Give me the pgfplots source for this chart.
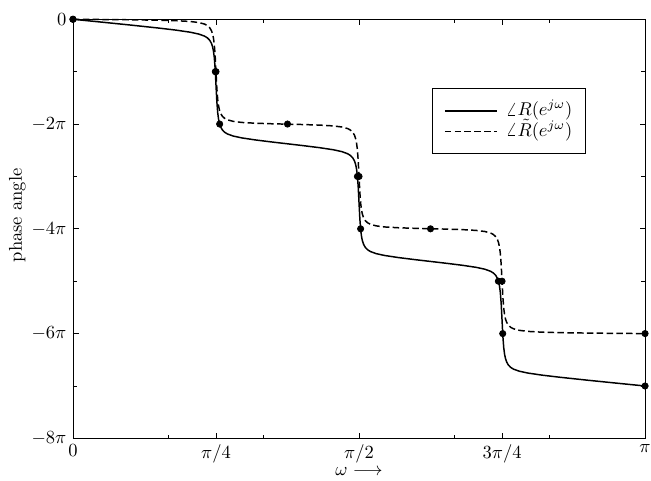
\documentclass[border=0pt]{standalone}
\usepackage{pgfplots}
\pgfplotsset{compat=1.18}
\begin{document}
\begin{tikzpicture}
\begin{axis}[
  scale only axis, width=308.9pt, height=226.3pt,
  xmin=0, xmax=1, ymin=-8, ymax=0,
  xtick={0,0.25,0.5,0.75,1},
  xticklabels={$0$,$\pi/4$,$\pi/2$,$3\pi/4$,$\pi$},
  minor xtick={0.16667,0.33333,0.66667,0.83333},
  ytick={-8,-6,-4,-2,0},
  yticklabels={$-8\pi$,$-6\pi$,$-4\pi$,$-2\pi$,$0$},
  minor ytick={-7,-5,-3,-1},
  major tick length=3pt, minor tick length=2pt,
  axis line style={line width=0.5pt},
  every tick/.style={black, line width=0.5pt},
  xlabel={$\omega \longrightarrow$}, ylabel={phase angle},
  xlabel style={at={(axis description cs:0.5,0)}, anchor=center, yshift=-17.8pt},
  ylabel style={at={(axis description cs:-0.097,0.532)}, anchor=center},
  clip=false,
  legend style={at={(0.627,0.835)}, anchor=north west, draw=black, inner xsep=6.5pt, inner ysep=6.5pt, nodes={inner sep=0.5pt, text height=7.5pt, text depth=2.5pt}, column sep=4pt, row sep=0pt, cells={anchor=west}},
  legend image code/.code={\draw[#1] (0pt,0pt) -- (28pt,0pt);},
]
\addplot[black, line width=0.8pt] coordinates {
(0,0) (0.05,-0.0545) (0.1,-0.1098) (0.15,-0.1681) (0.18,-0.2070) (0.205,-0.2472) (0.22,-0.2825) (0.23,-0.3220) (0.235,-0.3559) (0.239,-0.4008) (0.242,-0.4591) (0.244,-0.5244) (0.2455,-0.6018) (0.247,-0.7268) (0.2485,-0.9378) (0.25,-1.2555) (0.2515,-1.5733) (0.253,-1.7843) (0.2545,-1.9092) (0.256,-1.9867) (0.258,-2.0520) (0.261,-2.1103) (0.265,-2.1553) (0.27,-2.1892) (0.28,-2.2288) (0.295,-2.2643) (0.32,-2.3052) (0.35,-2.3456) (0.375,-2.3773) (0.4,-2.4090) (0.43,-2.4495) (0.455,-2.4906) (0.47,-2.5263) (0.48,-2.5660) (0.485,-2.6000) (0.489,-2.6451) (0.492,-2.7034) (0.494,-2.7687) (0.4955,-2.8462) (0.497,-2.9712) (0.4985,-3.1822) (0.5,-3.5)
(0.5015,-3.8178) (0.503,-4.0288) (0.5045,-4.1538) (0.506,-4.2313) (0.508,-4.2966) (0.511,-4.3549) (0.515,-4.4000) (0.52,-4.4340) (0.53,-4.4737) (0.545,-4.5094) (0.57,-4.5505) (0.6,-4.5910) (0.625,-4.6227) (0.65,-4.6544) (0.68,-4.6948) (0.705,-4.7357) (0.72,-4.7712) (0.73,-4.8108) (0.735,-4.8447) (0.739,-4.8897) (0.742,-4.9480) (0.744,-5.0133) (0.7455,-5.0908) (0.747,-5.2157) (0.7485,-5.4267) (0.75,-5.7445) (0.7515,-6.0622) (0.753,-6.2732) (0.7545,-6.3982) (0.756,-6.4756) (0.758,-6.5409) (0.761,-6.5992) (0.765,-6.6441) (0.77,-6.6780) (0.78,-6.7175) (0.795,-6.7528) (0.82,-6.7930) (0.85,-6.8319) (0.9,-6.8902) (0.95,-6.9455) (1,-7)
};
\addlegendentry{$\angle R(e^{j\omega})$}
\addplot[black, line width=0.8pt, dash pattern=on 3.5pt off 1.8pt] coordinates {
(0,0) (0.05,-0.0045) (0.1,-0.0098) (0.15,-0.0181) (0.18,-0.0270) (0.205,-0.0422) (0.22,-0.0625) (0.23,-0.0920) (0.235,-0.1209) (0.239,-0.1618) (0.242,-0.2171) (0.244,-0.2804) (0.2455,-0.3563) (0.247,-0.4798) (0.2485,-0.6893) (0.25,-1.0055) (0.2515,-1.3218) (0.253,-1.5313) (0.2545,-1.6547) (0.256,-1.7307) (0.258,-1.7940) (0.261,-1.8493) (0.265,-1.8903) (0.27,-1.9192) (0.28,-1.9488) (0.295,-1.9693) (0.32,-1.9852) (0.35,-1.9956) (0.375,-2.0023) (0.4,-2.0090) (0.43,-2.0195) (0.455,-2.0356) (0.47,-2.0563) (0.48,-2.0860) (0.485,-2.1150) (0.489,-2.1561) (0.492,-2.2114) (0.494,-2.2747) (0.4955,-2.3507) (0.497,-2.4742) (0.4985,-2.6837) (0.5,-3)
(0.5015,-3.3163) (0.503,-3.5258) (0.5045,-3.6493) (0.506,-3.7253) (0.508,-3.7886) (0.511,-3.8439) (0.515,-3.8850) (0.52,-3.9140) (0.53,-3.9437) (0.545,-3.9644) (0.57,-3.9805) (0.6,-3.9910) (0.625,-3.9977) (0.65,-4.0044) (0.68,-4.0148) (0.705,-4.0307) (0.72,-4.0512) (0.73,-4.0808) (0.735,-4.1097) (0.739,-4.1507) (0.742,-4.2060) (0.744,-4.2693) (0.7455,-4.3453) (0.747,-4.4687) (0.7485,-4.6782) (0.75,-4.9945) (0.7515,-5.3107) (0.753,-5.5202) (0.7545,-5.6437) (0.756,-5.7196) (0.758,-5.7829) (0.761,-5.8382) (0.765,-5.8791) (0.77,-5.9080) (0.78,-5.9375) (0.795,-5.9578) (0.82,-5.9730) (0.85,-5.9819) (0.9,-5.9902) (0.95,-5.9955) (1,-6)
};
\addlegendentry{$\angle \tilde{R}(e^{j\omega})$}
\addplot[black, only marks, mark=*, mark size=1.7pt, forget plot] coordinates {
(0,0) (0.2488,-1) (0.2564,-2) (0.4972,-3) (0.5028,-4) (0.7436,-5) (0.7512,-6) (1,-7)
};
\addplot[black, only marks, mark=*, mark size=1.7pt, forget plot] coordinates {
(0,0) (0.25,-1) (0.375,-2) (0.5,-3) (0.625,-4) (0.75,-5) (1,-6)
};
\end{axis}
\pgfresetboundingbox
\path[use as bounding box] ([xshift=-39.4pt,yshift=-22.6pt]current axis.south west) rectangle ([xshift=3.2pt,yshift=10.4pt]current axis.north east);
\end{tikzpicture}
\end{document}
